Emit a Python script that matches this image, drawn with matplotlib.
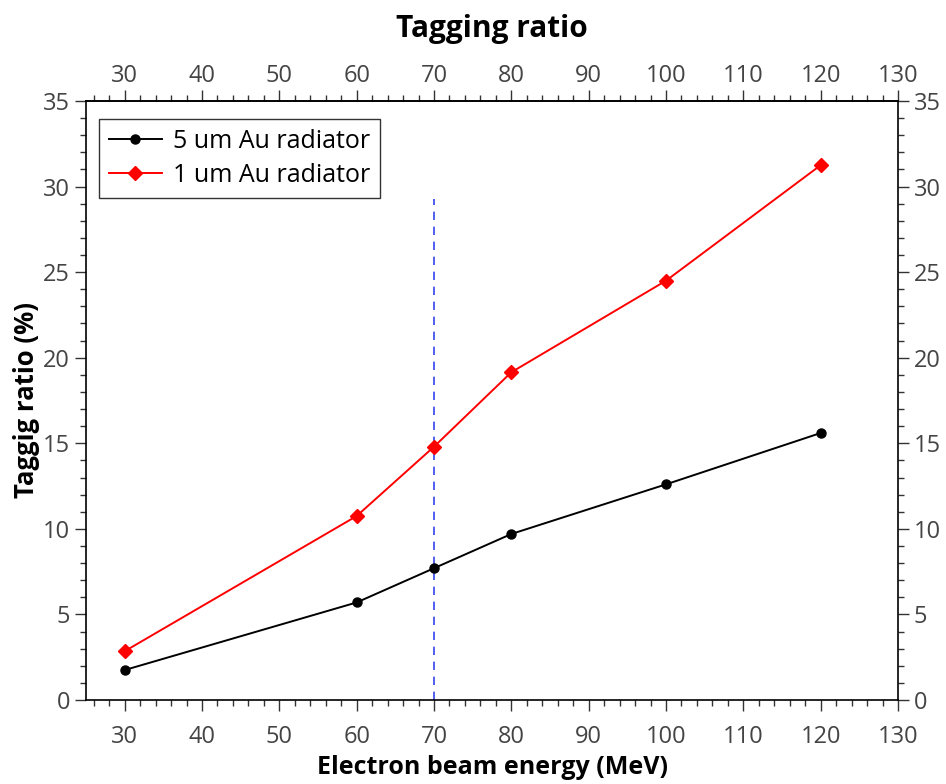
import matplotlib
matplotlib.use("Agg")
import matplotlib.pyplot as plt
from matplotlib.ticker import MultipleLocator, FixedLocator

plt.rcParams["font.family"] = ["Open Sans", "DejaVu Sans"]

energy = [30, 60, 70, 80, 100, 120]
ratio_5um = [1.75, 5.7, 7.7, 9.7, 12.6, 15.6]
ratio_1um = [2.85, 10.75, 14.8, 19.15, 24.5, 31.25]
marker_energy = 70
marker_top = 29.3
x_ticks = [30, 40, 50, 60, 70, 80, 90, 100, 110, 120, 130]
x_minor = [v for v in range(26, 131, 2) if v % 10]

fig = plt.figure(figsize=(9.46, 7.84), dpi=100)
ax = fig.add_axes([86 / 946, 84 / 784, 812 / 946, 599 / 784])

ax.plot(energy, ratio_5um, color="black", marker="o", markersize=6.5, lw=1.4,
        label="5 um Au radiator", zorder=3)
ax.plot(energy, ratio_1um, color="red", marker="D", markersize=7, lw=1.4,
        label="1 um Au radiator", zorder=3)
ax.plot([marker_energy, marker_energy], [0, marker_top], color="#3344ee",
        lw=1.2, ls=(0, (5, 4)), zorder=2)

ax.set_xlim(25, 130)
ax.set_ylim(0, 35)
ax.xaxis.set_major_locator(FixedLocator(x_ticks))
ax.xaxis.set_minor_locator(FixedLocator(x_minor))
ax.yaxis.set_major_locator(MultipleLocator(5))
ax.yaxis.set_minor_locator(MultipleLocator(1))
ax.tick_params(which="both", direction="out", top=False, right=True,
               labelright=True, colors="#333333",
               labelcolor="#444444", labelsize=17, width=1)
ax.tick_params(which="major", length=8)
ax.tick_params(which="minor", length=4)
ax.tick_params(axis="x", which="both", pad=10)
for s in ax.spines.values():
    s.set_linewidth(1.2)

# top axis carries its own labels with a tighter pad
top = ax.secondary_xaxis("top")
top.xaxis.set_major_locator(FixedLocator(x_ticks))
top.xaxis.set_minor_locator(FixedLocator(x_minor))
top.tick_params(which="both", direction="out", colors="#333333",
                labelcolor="#444444", labelsize=17, width=1, pad=1.5)
top.tick_params(which="major", length=8)
top.tick_params(which="minor", length=4)
top.spines["top"].set_linewidth(1.2)

ax.set_xlabel("Electron beam energy (MeV)", fontsize=18, fontweight="bold",
              labelpad=4)
ax.set_ylabel("Taggig ratio (%)", fontsize=18.5, fontweight="bold",
              labelpad=2)
top.set_xlabel("Tagging ratio", fontsize=21.5, fontweight="bold", labelpad=19)

ax.legend(loc="upper left", bbox_to_anchor=(13 / 812, 1 - 18 / 599),
          borderaxespad=0, fontsize=18, frameon=True, fancybox=False,
          edgecolor="#333333", framealpha=1, handlelength=2.1,
          handletextpad=0.45, labelspacing=0.36, borderpad=0.4)

fig.savefig("out.png", dpi=100)
